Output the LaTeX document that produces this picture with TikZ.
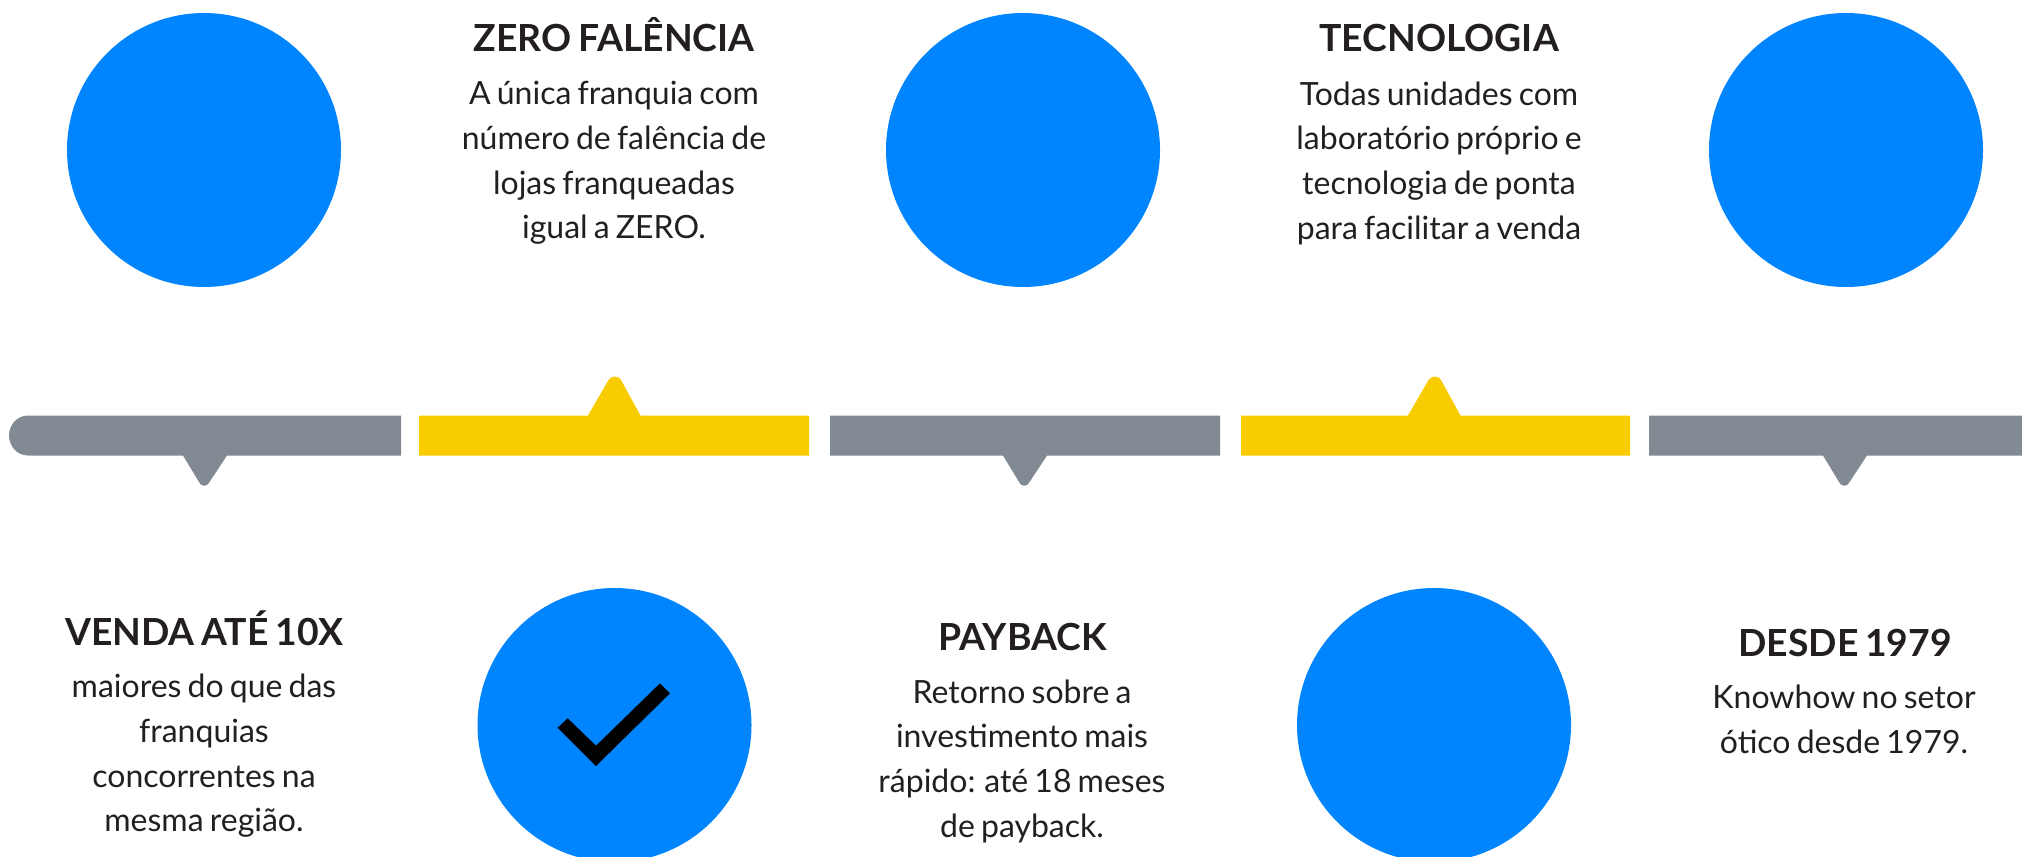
\documentclass[tikz,border=0pt]{standalone}
\usepackage{fontspec}
\setmainfont[WordSpace=0.75]{Lato}
\definecolor{blueC}{HTML}{0085FF}
\definecolor{grayC}{HTML}{818A92}
\definecolor{yellowC}{HTML}{F9CC00}
\definecolor{inkC}{HTML}{231F20}
\begin{document}
\begin{tikzpicture}[x=0.75pt,y=-0.75pt,
  disc/.style={circle,fill=blueC,inner sep=0pt,minimum size=205.5pt},
  titletext/.style={text=inkC,inner sep=0pt,anchor=base,font=\fontsize{28}{32}\selectfont\bfseries},
  bodytext/.style={text=inkC,inner sep=0pt,anchor=center,align=center,font=\fontsize{24}{33.5}\selectfont},
  graybar/.style={fill=grayC},
  yellowbar/.style={fill=yellowC}]
\useasboundingbox (0,0) rectangle (2022,856);
\clip (0,0) rectangle (2022,856);
% discs
\node[disc] (c1) at (204,150) {};
\node[disc] (c2) at (614.5,725) {};
\node[disc] (c3) at (1023,150) {};
\node[disc] (c4) at (1434,725) {};
\node[disc] (c5) at (1846,150) {};
% check
\fill[black] (557.7,727.7) -- (567.7,718.3) -- (596,745.7) -- (660,683.3) -- (670,693.3) -- (596,766) -- cycle;
% bars
\fill[graybar] (401,415.5) -- (401,455.5) -- (227,455.5) -- (209.5,482) .. controls (207.5,487) and (201,487) .. (199,482) -- (183,455.5) -- (28,455.5)
   .. controls (17,455.5) and (9,446) .. (9,435.5) .. controls (9,425) and (17,415.5) .. (28,415.5) -- cycle;
\fill[yellowbar] (419,415.5) -- (588,415.5) -- (608.5,380) .. controls (610.5,375.5) and (619,375.5) .. (621,380) -- (640.5,415.5) -- (809,415.5) -- (809,455.5) -- (419,455.5) -- cycle;
\fill[graybar] (830,415.5) -- (1220,415.5) -- (1220,455.5) -- (1047,455.5) -- (1029.5,482) .. controls (1027.5,487) and (1021,487) .. (1019,482) -- (1003,455.5) -- (830,455.5) -- cycle;
\fill[yellowbar] (1241,415.5) -- (1408,415.5) -- (1428.5,380) .. controls (1430.5,375.5) and (1439,375.5) .. (1441,380) -- (1460.5,415.5) -- (1630,415.5) -- (1630,455.5) -- (1241,455.5) -- cycle;
\fill[graybar] (1649,415.5) -- (2022,415.5) -- (2022,455.5) -- (1867,455.5) -- (1849.5,482) .. controls (1847.5,487) and (1841,487) .. (1839,482) -- (1823,455.5) -- (1649,455.5) -- cycle;
% text
\node[titletext] (t2) at (614,51) {ZERO FALÊNCIA};
\node[bodytext] (b2) at (614,163) {A única franquia com\\número de falência de\\lojas franqueadas\\igual a ZERO.};
\node[titletext] (t4) at (1439,51) {TECNOLOGIA};
\node[bodytext] (b4) at (1439,163) {Todas unidades com\\laboratório próprio e\\tecnologia de ponta\\para facilitar a venda};
\node[titletext] (t1) at (204.5,645) {VENDA ATÉ 10X};
\node[bodytext] (b1) at (204,756) {maiores do que das\\franquias\\concorrentes na\\mesma região.};
\node[titletext] (t3) at (1022.6,650) {PAYBACK};
\node[bodytext] (b3) at (1022,761) {Retorno sobre a\\investimento mais\\rápido: até 18 meses\\de payback.};
\node[titletext] (t5) at (1845,656) {DESDE 1979};
\node[bodytext] (b5) at (1844,719.5) {Knowhow no setor\\ótico desde 1979.};
\end{tikzpicture}
\end{document}
